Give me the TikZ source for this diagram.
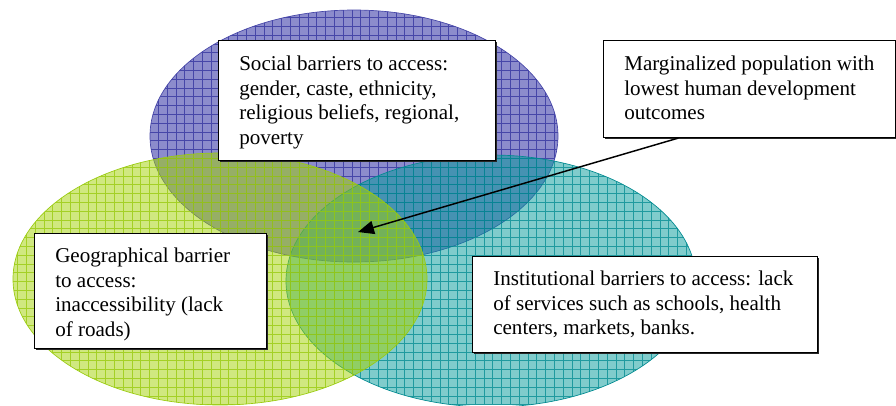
\documentclass[tikz,border=0pt]{standalone}
\usepackage{fontspec}
\setmainfont{Liberation Serif}
\usetikzlibrary{arrows.meta,shadows,calc}

\definecolor{socfill}{HTML}{8C8CCC}
\definecolor{socgrid}{HTML}{4646A8}
\definecolor{insfill}{HTML}{019999}
\definecolor{insgrid}{HTML}{008A90}
\definecolor{geofill}{HTML}{A1D101}
\definecolor{geogrid}{HTML}{9ACB10}

\tikzset{
  barrierbox/.style={draw=black, line width=0.8pt, fill=white, anchor=north west,
    inner sep=0pt,
    drop shadow={shadow xshift=1pt, shadow yshift=-1pt, fill=black!85, opacity=1}},
  boxtext/.style={font=\fontsize{15.8pt}{18.4pt}\selectfont, align=left,
    inner sep=0pt, anchor=north west, xshift=15.75pt, yshift=-11.7pt},
  conn/.style={draw=black, line width=1.1pt, -{Triangle[length=12pt,width=10pt]}}
}

\begin{document}
\begin{tikzpicture}[x=0.75pt,y=-0.75pt]
\useasboundingbox (0,0) rectangle (896,405);

% social barriers (bottom layer)
\begin{scope}
  \clip (354,136) ellipse [x radius=153pt, y radius=94.5pt];
  \fill[socfill] (0,0) rectangle (896,405);
  \draw[socgrid, line width=0.55pt, step=6.6pt] (0,405) grid (896,0);
\end{scope}
\draw[socgrid, line width=0.5pt] (354,136) ellipse [x radius=153pt, y radius=94.5pt];

% institutional barriers
\begin{scope}
  \clip (491,281) ellipse [x radius=153.75pt, y radius=94.5pt];
  \fill[insfill, fill opacity=0.5] (0,0) rectangle (896,405);
  \draw[insgrid, draw opacity=0.75, line width=0.55pt, step=6.6pt] (0,405) grid (896,0);
\end{scope}
\draw[insgrid, line width=0.5pt] (491,281) ellipse [x radius=153.75pt, y radius=94.5pt];

% geographical barriers (top layer)
\begin{scope}
  \clip (220,279) ellipse [x radius=155.25pt, y radius=94.5pt];
  \fill[geofill, fill opacity=0.5] (0,0) rectangle (896,405);
  \draw[geogrid, draw opacity=0.8, line width=0.55pt, step=6.6pt] (0,405) grid (896,0);
\end{scope}
\draw[geogrid, line width=0.5pt] (220,279) ellipse [x radius=155.25pt, y radius=94.5pt];

% text boxes
\node[barrierbox, minimum width=207.75pt, minimum height=90pt] (soc) at (218,40) {};
\node[boxtext] (socT) at (soc.north west)
  {Social barriers to access:\\gender, caste, ethnicity,\\religious beliefs, regional,\\poverty};

\node[barrierbox, minimum width=219pt, minimum height=72.75pt] (mar) at (603,40) {};
\node[boxtext] (marT) at (mar.north west)
  {Marginalized population with\\lowest human development\\outcomes};

\node[barrierbox, minimum width=174pt, minimum height=86.25pt] (geo) at (34,233) {};
\node[boxtext, yshift=0.75pt] (geoT) at (geo.north west)
  {Geographical barrier\\to access:\\inaccessibility (lack\\of roads)};

\node[barrierbox, minimum width=258.75pt, minimum height=72pt] (ins) at (472,256) {};
\node[boxtext, yshift=0.75pt] (insT) at (ins.north west)
  {Institutional barriers to access: lack\\of services such as schools, health\\centers, markets, banks.};

% pointer to the common intersection
\coordinate (core) at (358,232);
\draw[conn] ($(mar.south west)!0.257!(mar.south east)$) -- (core);

\end{tikzpicture}
\end{document}
